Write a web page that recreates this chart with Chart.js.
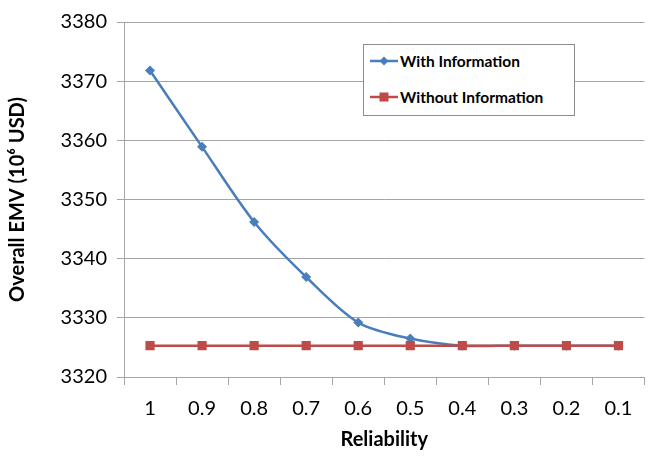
<!DOCTYPE html>
<html>
<head>
<meta charset="utf-8">
<script src="https://cdn.jsdelivr.net/npm/chart.js@4/dist/chart.umd.min.js"></script>
<style>
  html, body { margin: 0; padding: 0; background: #fff; }
  #wrap { position: relative; width: 651px; height: 458px; }
  #legend {
    position: absolute; left: 363px; top: 44px; width: 210px; height: 70px;
    border: 1px solid #8c8c8c; background: #fff;
    font-family: Lato, "Open Sans", sans-serif; font-weight: bold; font-size: 15.5px; color: #000;
  }
  #legend .row { position: absolute; left: 6px; display: flex; align-items: center; }
  #legend svg { margin-right: 2px; }
</style>
</head>
<body>
<div id="wrap">
  <canvas id="chart" width="651" height="458"></canvas>
  <div id="legend">
    <div class="row" style="top:7px">
      <svg width="28" height="12"><line x1="0" y1="6" x2="28" y2="6" stroke="#4a7ebb" stroke-width="2.5"/><path d="M14 1.5 L18.5 6 L14 10.5 L9.5 6 Z" fill="#4a7ebb"/></svg>
      <span>With Information</span>
    </div>
    <div class="row" style="top:43px">
      <svg width="28" height="12"><line x1="0" y1="6" x2="28" y2="6" stroke="#be4b48" stroke-width="2.5"/><rect x="9.5" y="1.5" width="9" height="9" fill="#be4b48"/></svg>
      <span>Without Information</span>
    </div>
  </div>
</div>
<script>
// Données
const reliability = ["1", "0.9", "0.8", "0.7", "0.6", "0.5", "0.4", "0.3", "0.2", "0.1"];
const withInfo = [3371.8, 3358.9, 3346.2, 3336.9, 3329.2, 3326.5, 3325.3, 3325.3, 3325.3, 3325.3];
const withoutInfo = [3325.3, 3325.3, 3325.3, 3325.3, 3325.3, 3325.3, 3325.3, 3325.3, 3325.3, 3325.3];
const yMin = 3320;
const yMax = 3380;
const yStep = 10;

const font = "Lato, 'Open Sans', sans-serif";
const ctx = document.getElementById("chart").getContext("2d");

new Chart(ctx, {
  type: "line",
  data: {
    labels: reliability,
    datasets: [
      {
        label: "With Information",
        data: withInfo,
        borderColor: "#4a7ebb",
        backgroundColor: "#4a7ebb",
        borderWidth: 2.5,
        pointStyle: "rectRot",
        pointRadius: 5,
        pointBorderWidth: 0,
        tension: 0.3,
        order: 1
      },
      {
        label: "Without Information",
        data: withoutInfo,
        borderColor: "#be4b48",
        backgroundColor: "#be4b48",
        borderWidth: 2.5,
        pointStyle: "rect",
        pointRadius: 6.5,
        pointBorderWidth: 0,
        order: 0
      }
    ]
  },
  options: {
    responsive: false,
    animation: false,
    layout: { padding: { top: 10, right: 6, left: 0, bottom: 0 } },
    plugins: {
      legend: { display: false },
      tooltip: { enabled: false }
    },
    scales: {
      x: {
        offset: true,
        grid: {
          offset: true,
          drawOnChartArea: false,
          drawTicks: true,
          tickLength: 8,
          color: "#a6a6a6"
        },
        border: { color: "#a6a6a6", width: 1 },
        ticks: {
          color: "#000",
          font: { family: font, size: 20 },
          padding: 12,
          maxRotation: 0
        },
        title: {
          display: true,
          text: "Reliability",
          color: "#000",
          font: { family: font, size: 20, weight: "bold" },
          padding: { top: 2, bottom: 6 }
        },
        afterFit: function (scale) { scale.height = 81; }
      },
      y: {
        min: yMin,
        max: yMax,
        ticks: {
          stepSize: yStep,
          color: "#000",
          font: { family: font, size: 20 },
          padding: 10,
          callback: function (value) { return String(value); }
        },
        grid: { color: "#a6a6a6", tickLength: 7 },
        border: { color: "#a6a6a6", width: 1 },
        title: {
          display: true,
          text: "Overall EMV (10\u2076 USD)",
          color: "#000",
          font: { family: font, size: 20, weight: "bold" },
          padding: { top: 6, bottom: 2 }
        },
        afterFit: function (scale) { scale.width = 124; }
      }
    }
  }
});
</script>
</body>
</html>
